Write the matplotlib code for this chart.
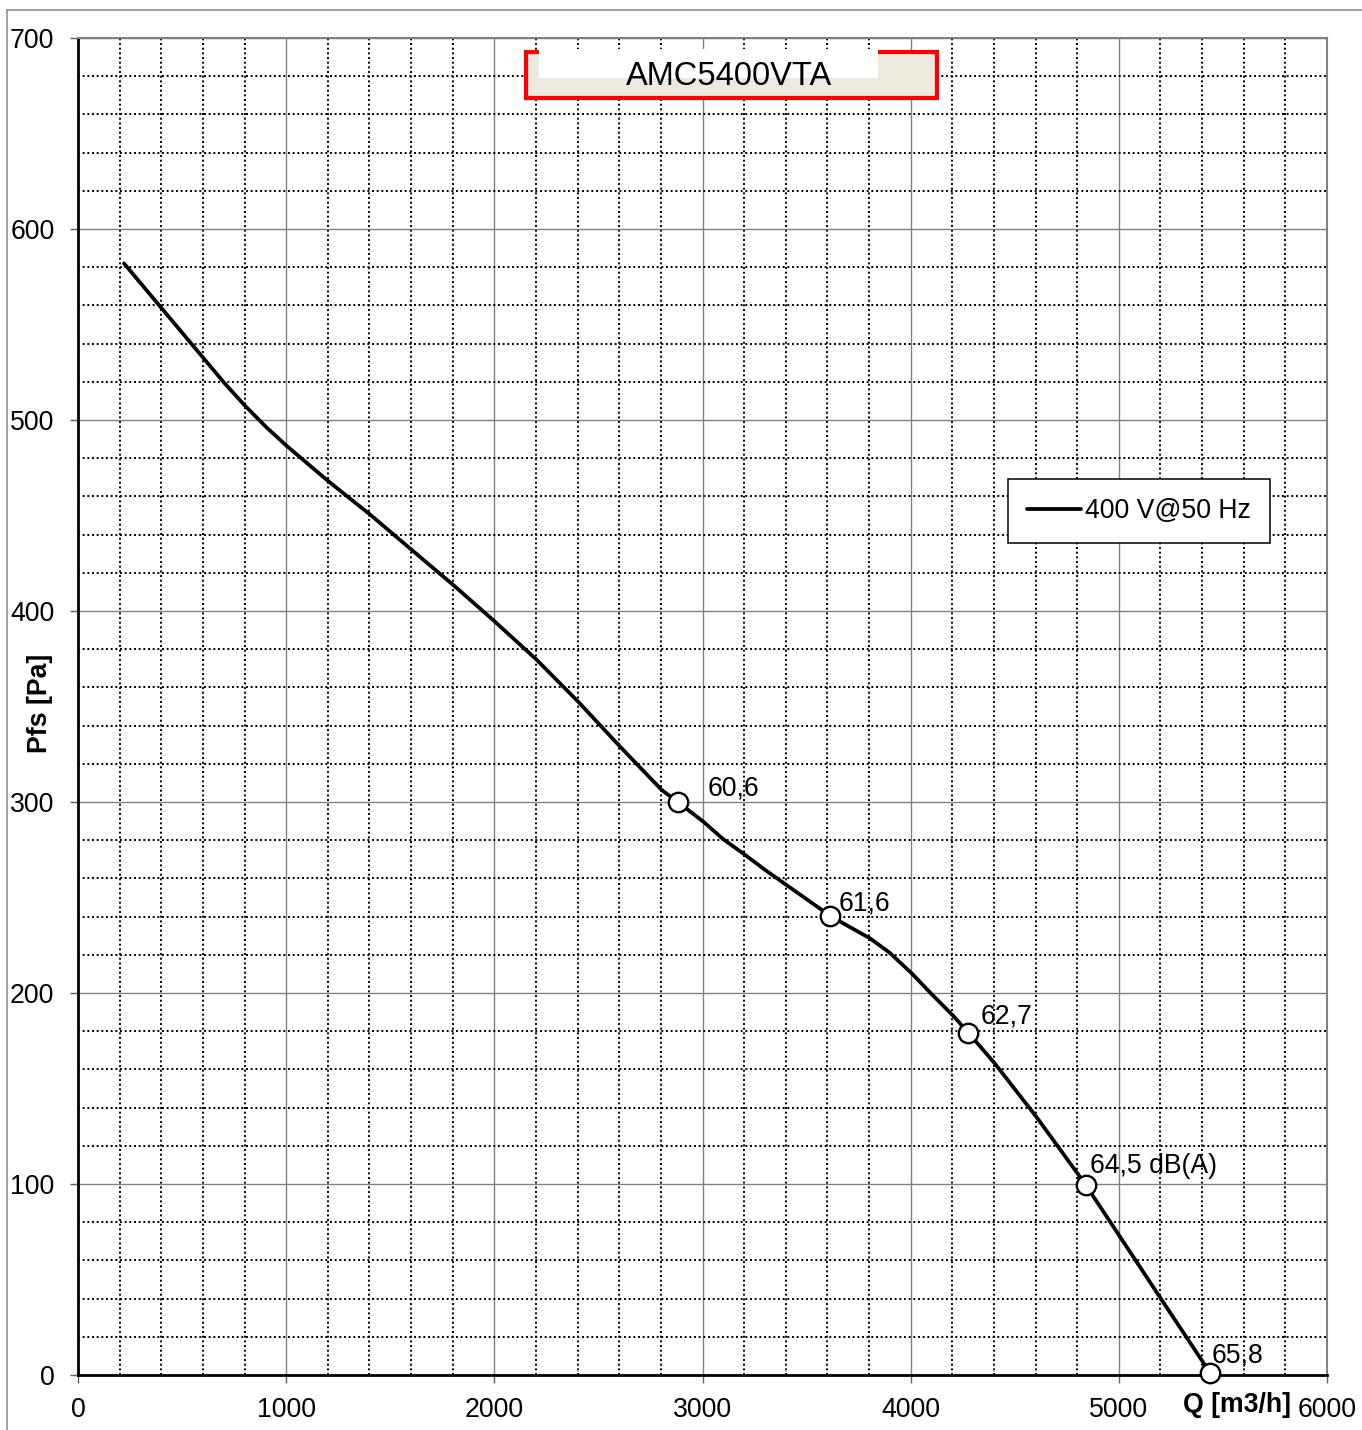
import matplotlib as mpl
mpl.use('Agg')
import matplotlib.pyplot as plt
from matplotlib.lines import Line2D
from matplotlib.patches import Rectangle
from matplotlib.ticker import MultipleLocator

mpl.rcParams['font.family'] = ['Liberation Sans', 'DejaVu Sans']

# Fan curve
flow = [221, 394, 602, 702, 802, 902, 1002, 1202, 1403, 1603, 1803, 2003,
        2203, 2403, 2604, 2804, 2884, 3004, 3100, 3196, 3300, 3404, 3612,
        3700, 3805, 3900, 4005, 4100, 4205, 4277, 4405, 4605, 4805, 4841,
        5002, 5206, 5438]
pressure = [582, 559.5, 532.5, 519.5, 507.5, 496.5, 486.5, 468, 450.5, 432,
            413.6, 394.4, 374.5, 352.5, 329, 306.3, 299.8, 289.7, 280.5, 273,
            264.5, 256.5, 240.5, 235, 228.6, 221, 210.3, 199.5, 188, 179.2,
            163, 135, 105, 99.5, 73, 39.3, 1.2]

# Noise level operating points
pt_flow = [2884, 3612, 4277, 4841, 5438]
pt_pressure = [299.8, 240.5, 179.2, 99.5, 1.2]
pt_labels = ['60,6', '61,6', '62,7', '64,5 dB(A)', '65,8']
pt_offsets = [(21, 5), (6.5, 3.4), (9, 6.3), (3, 8.6), (1.4, 7)]

title = 'AMC5400VTA'
series_name = '400 V@50 Hz'

FS = 19.2
W, H = 1362, 1430
fig = plt.figure(figsize=(W / 100, H / 100), dpi=100)


def fx(px):
    return px / W


def fy(py):
    return 1 - py / H


ax = fig.add_axes([fx(78), fy(1375), fx(1327) - fx(78), fy(38) - fy(1375)])
ax.set_xlim(0, 6000)
ax.set_ylim(0, 700)

# Grid: solid major, dotted minor
ax.xaxis.set_major_locator(MultipleLocator(1000))
ax.xaxis.set_minor_locator(MultipleLocator(200))
ax.yaxis.set_major_locator(MultipleLocator(100))
ax.yaxis.set_minor_locator(MultipleLocator(20))
ax.grid(which='major', color='#808080', linewidth=1.0, linestyle='-')
ax.grid(which='minor', color='black', linewidth=1.4, linestyle=(0, (1, 1.4)))
ax.set_axisbelow(True)

ax.tick_params(which='major', direction='out', length=6, width=1,
               color='#606060', labelsize=FS)
ax.tick_params(axis='y', which='major', pad=11)
ax.tick_params(axis='x', which='major', pad=10)
ax.tick_params(which='minor', length=0)

for side in ['left', 'bottom']:
    ax.spines[side].set_color('black')
    ax.spines[side].set_linewidth(2)
for side in ['top', 'right']:
    ax.spines[side].set_color('#808080')
    ax.spines[side].set_linewidth(1.5)

# Curve and operating points
ax.plot(flow, pressure, color='black', linewidth=2.7, solid_capstyle='round',
        solid_joinstyle='round', label=series_name, zorder=3)
ax.plot(pt_flow, pt_pressure, linestyle='none', marker='o', markersize=14,
        markerfacecolor='white', markeredgecolor='black', markeredgewidth=1.7,
        zorder=4, clip_on=False)
for q, p, lab, off in zip(pt_flow, pt_pressure, pt_labels, pt_offsets):
    ax.annotate(lab, (q, p), xytext=off, textcoords='offset points',
                ha='left', va='baseline', fontsize=FS, zorder=5)

# Axis labels
ax.set_ylabel('Pfs [Pa]', fontsize=FS, fontweight='bold')
ax.yaxis.set_label_coords((53 - 78) / 1249, 0.502)
ax.text((1237 - 78) / 1249, -(1405 - 1375) / 1337, 'Q [m3/h]',
        transform=ax.transAxes, ha='center', va='center', fontsize=FS,
        fontweight='bold')

# Legend
leg = ax.legend(loc='upper left', bbox_to_anchor=(fx(1008), fy(479)),
                bbox_transform=fig.transFigure, borderaxespad=0,
                fontsize=FS, fancybox=False, handlelength=2.0,
                handletextpad=0.15, borderpad=0.72, framealpha=1)
leg.get_frame().set_edgecolor('black')
leg.get_frame().set_linewidth(1.1)
leg.get_lines()[0].set_linewidth(2.7)

# Title box
fig.add_artist(Rectangle((fx(526), fy(98)), fx(937) - fx(526), fy(52) - fy(98),
                         transform=fig.transFigure, facecolor='#ECE9DF',
                         edgecolor='#FF0000', linewidth=3, zorder=10))
fig.add_artist(Rectangle((fx(539), fy(78)), fx(878) - fx(539), fy(49) - fy(78),
                         transform=fig.transFigure, facecolor='white',
                         edgecolor='none', zorder=11))
fig.text(fx(729.5), fy(85), title, ha='center', va='baseline', fontsize=23.5,
         zorder=12)

# Chart area frame (top and left edges visible)
fig.add_artist(Line2D([fx(7), 1], [fy(10), fy(10)], color='#909090', linewidth=1.2))
fig.add_artist(Line2D([fx(7), fx(7)], [0, fy(10)], color='#909090', linewidth=1.2))

fig.savefig('out.png', dpi=100)
plt.close(fig)
